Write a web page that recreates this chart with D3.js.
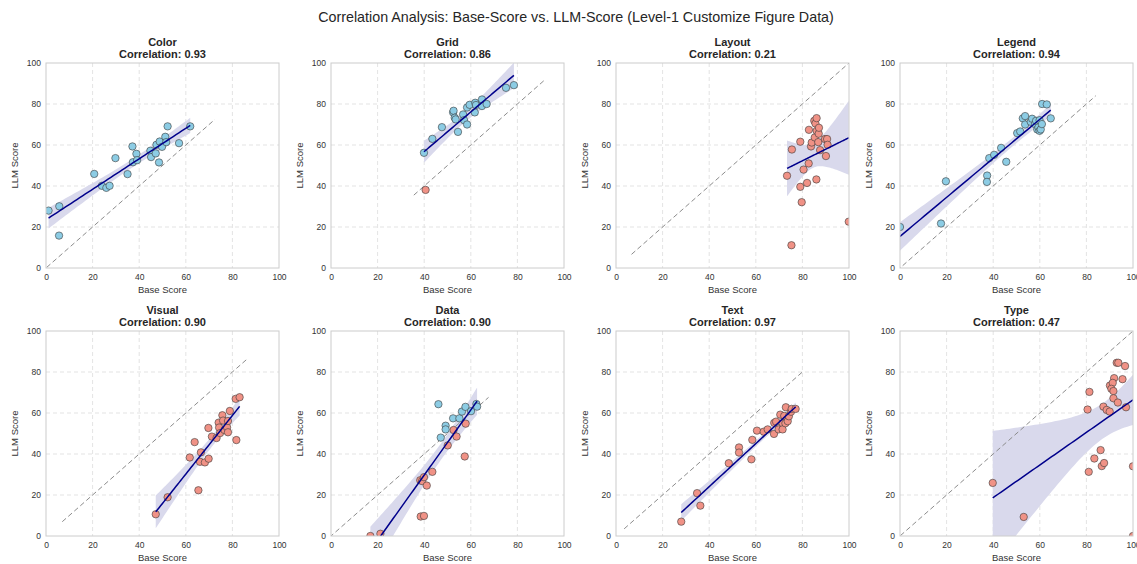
<!DOCTYPE html>
<html>
<head>
<meta charset="utf-8">
<script src="https://cdn.jsdelivr.net/npm/d3@7"></script>
<style>
  html, body { margin: 0; padding: 0; background: #fff; }
  svg { display: block; font-family: "Liberation Sans", Arial, sans-serif; }
</style>
</head>
<body>
<svg id="chart" width="1137" height="564"></svg>
<script>
// ---------------- DATA ----------------
const suptitle = "Correlation Analysis: Base-Score vs. LLM-Score (Level-1 Customize Figure Data)";
const panelNames = ["Color", "Grid", "Layout", "Legend", "Visual", "Data", "Text", "Type"];
const corrLabels = ["0.93", "0.86", "0.21", "0.94", "0.90", "0.90", "0.97", "0.47"];
const tickValues = [0, 20, 40, 60, 80, 100];

const colorBase = [1.1, 5.7, 5.6, 20.7, 24.0, 25.9, 27.3, 29.8, 35.0, 37.1, 37.3, 38.8, 39.1, 44.8, 45.1, 47.1, 47.4, 48.5, 48.8, 49.8, 51.2, 51.6, 52.2, 57.1, 61.9];
const colorLLM  = [28.0, 30.1, 15.8, 45.9, 40.1, 39.1, 40.1, 53.6, 45.8, 59.3, 51.6, 55.7, 52.6, 57.2, 54.1, 55.9, 60.1, 51.5, 61.7, 59.1, 64.0, 61.4, 69.1, 60.9, 69.1];

const gridBase = [39.9, 40.6, 43.5, 47.6, 52.4, 52.6, 53.1, 53.5, 54.5, 56.7, 57.1, 58.4, 58.4, 59.5, 61.7, 61.9, 62.2, 64.8, 64.8, 66.8, 75.1, 78.5];
const gridLLM  = [56.2, 38.1, 63.0, 68.7, 75.9, 76.7, 73.3, 72.5, 66.4, 74.9, 72.1, 70.0, 78.3, 79.6, 75.9, 80.6, 79.5, 82.2, 79.0, 80.0, 87.9, 89.2];

const layoutBase = [73.4, 75.5, 75.3, 79.1, 79.1, 79.7, 80.5, 82.0, 82.7, 82.8, 83.7, 84.0, 85.1, 85.3, 85.6, 86.0, 86.1, 86.1, 86.8, 87.0, 87.1, 87.6, 89.7, 90.1, 90.6, 90.8, 99.9];
const layoutLLM  = [45.0, 57.8, 11.1, 61.6, 39.6, 32.1, 48.0, 41.5, 51.0, 67.4, 59.3, 61.2, 71.8, 63.7, 70.5, 43.2, 73.1, 66.9, 61.4, 65.5, 68.4, 57.5, 62.9, 54.6, 62.9, 60.1, 22.6];

const legendBase = [0.0, 17.6, 19.7, 37.4, 37.3, 38.3, 40.4, 43.4, 45.6, 50.3, 51.6, 52.7, 53.7, 53.7, 56.1, 56.7, 57.9, 58.4, 58.9, 59.9, 59.4, 59.9, 60.4, 60.9, 61.0, 63.0, 64.7];
const legendLLM  = [20.0, 21.7, 42.3, 45.1, 42.0, 53.6, 55.2, 58.6, 51.8, 65.8, 66.6, 73.0, 74.1, 70.0, 71.3, 72.8, 70.2, 71.8, 67.6, 72.1, 68.6, 66.9, 67.6, 70.2, 80.0, 79.8, 73.0];

const visualBase = [47.1, 52.2, 61.7, 63.8, 65.4, 66.1, 66.5, 68.2, 69.8, 69.7, 71.2, 73.2, 74.1, 74.3, 74.7, 75.7, 76.0, 76.6, 77.7, 78.1, 78.1, 78.9, 81.4, 81.7, 83.1];
const visualLLM  = [10.6, 18.9, 38.3, 45.8, 22.3, 36.2, 40.8, 35.9, 37.7, 52.7, 48.5, 47.8, 55.3, 52.9, 50.2, 58.9, 56.3, 51.7, 53.0, 50.6, 56.1, 61.0, 66.9, 46.8, 67.7];

const dataBase = [16.9, 21.2, 38.5, 39.9, 38.3, 39.1, 39.9, 41.1, 43.5, 50.1, 52.6, 53.9, 57.8, 57.4, 46.1, 47.1, 49.2, 49.2, 52.4, 55.1, 56.2, 57.7, 60.1, 62.4, 62.7];
const dataLLM  = [0.0, 1.1, 9.5, 9.8, 27.2, 26.8, 28.7, 24.6, 31.3, 44.2, 51.7, 48.5, 54.8, 38.8, 64.3, 48.0, 53.8, 52.0, 57.4, 57.4, 60.7, 63.0, 60.9, 64.4, 63.1];

const textBase = [28.0, 34.8, 36.2, 48.4, 52.8, 52.8, 58.1, 58.5, 60.5, 63.4, 65.1, 67.8, 67.9, 68.7, 69.8, 70.5, 71.5, 71.5, 72.2, 72.7, 72.9, 73.7, 74.2, 75.1, 75.4, 77.1];
const textLLM  = [7.0, 20.9, 14.8, 35.5, 43.2, 40.7, 37.4, 46.9, 51.4, 50.9, 52.0, 49.8, 55.2, 55.8, 52.0, 59.2, 55.0, 52.0, 58.6, 55.0, 62.8, 56.0, 58.4, 60.6, 62.0, 62.0];

const typeBase = [39.8, 53.1, 81.0, 83.4, 81.3, 80.5, 86.1, 86.6, 87.6, 87.3, 88.7, 90.0, 93.0, 93.7, 96.6, 91.9, 95.5, 90.1, 91.3, 90.7, 91.6, 91.6, 93.5, 97.0, 100.0, 100.0];
const typeLLM  = [25.9, 9.3, 31.3, 37.8, 70.3, 61.7, 41.9, 34.1, 35.6, 63.1, 61.5, 60.7, 84.5, 84.5, 82.9, 77.0, 76.5, 73.4, 74.7, 71.8, 70.7, 67.2, 65.1, 62.8, 34.0, 0.0];

const baseSeries = [colorBase, gridBase, layoutBase, legendBase, visualBase, dataBase, textBase, typeBase];
const llmSeries  = [colorLLM, gridLLM, layoutLLM, legendLLM, visualLLM, dataLLM, textLLM, typeLLM];

// ---------------- LAYOUT ----------------
const colX = [46, 331, 616, 900];
const rowY = [63, 331];
const pw = 233, ph = 205;

const svg = d3.select("#chart");

svg.append("text")
  .attr("x", 576).attr("y", 22)
  .attr("text-anchor", "middle")
  .attr("font-size", 14.3)
  .attr("fill", "#262626")
  .text(suptitle);

panelNames.forEach((name, i) => {
  const base = baseSeries[i], llm = llmSeries[i];
  const x0 = colX[i % 4], y0 = rowY[Math.floor(i / 4)];
  const g = svg.append("g").attr("transform", `translate(${x0},${y0})`);
  const x = d3.scaleLinear().domain([0, 100]).range([0, pw]);
  const y = d3.scaleLinear().domain([0, 100]).range([ph, 0]);

  const clipId = "clip" + i;
  g.append("clipPath").attr("id", clipId)
    .append("rect").attr("x", 0).attr("y", 0).attr("width", pw).attr("height", ph);

  // grid
  g.append("g").selectAll("line.vx").data(tickValues.slice(1, -1)).join("line")
    .attr("x1", d => x(d)).attr("x2", d => x(d)).attr("y1", 0).attr("y2", ph)
    .attr("stroke", "#dcdcdc").attr("stroke-width", 0.8).attr("stroke-dasharray", "4,3");
  g.append("g").selectAll("line.hy").data(tickValues.slice(1, -1)).join("line")
    .attr("y1", d => y(d)).attr("y2", d => y(d)).attr("x1", 0).attr("x2", pw)
    .attr("stroke", "#dcdcdc").attr("stroke-width", 0.8).attr("stroke-dasharray", "4,3");

  // axes (labels only)
  const xa = g.append("g").attr("transform", `translate(0,${ph})`)
    .call(d3.axisBottom(x).tickValues(tickValues).tickSize(0).tickPadding(6));
  const ya = g.append("g")
    .call(d3.axisLeft(y).tickValues(tickValues).tickSize(0).tickPadding(5));
  [xa, ya].forEach(a => {
    a.select(".domain").remove();
    a.selectAll("text").attr("font-size", 8.5).attr("fill", "#333")
      .attr("font-family", "Liberation Sans, Arial, sans-serif");
  });

  const plot = g.append("g").attr("clip-path", `url(#${clipId})`);

  // regression
  const n = base.length;
  const mx = d3.mean(base), my = d3.mean(llm);
  let sxx = 0, sxy = 0;
  for (let k = 0; k < n; k++) { sxx += (base[k] - mx) ** 2; sxy += (base[k] - mx) * (llm[k] - my); }
  const b = sxy / sxx, a = my - b * mx;
  let sse = 0;
  for (let k = 0; k < n; k++) sse += (llm[k] - (a + b * base[k])) ** 2;
  const s = Math.sqrt(sse / (n - 2));
  const tval = 1.96 + 2.5 / (n - 2);
  const [xmin, xmax] = d3.extent(base);
  const xs = d3.range(0, 51).map(k => xmin + (xmax - xmin) * k / 50);
  const band = xs.map(xv => {
    const yh = a + b * xv;
    const se = s * Math.sqrt(1 / n + (xv - mx) ** 2 / sxx);
    return { x: xv, lo: yh - tval * se, hi: yh + tval * se, y: yh };
  });
  plot.append("path").datum(band)
    .attr("d", d3.area().x(d => x(d.x)).y0(d => y(d.lo)).y1(d => y(d.hi)))
    .attr("fill", "rgb(217,217,236)").attr("stroke", "none");

  // diagonal reference line
  const all = base.concat(llm);
  const lo = d3.min(all), hi = d3.max(all), pad = (hi - lo) * 0.05;
  plot.append("line")
    .attr("x1", x(lo - pad)).attr("y1", y(lo - pad))
    .attr("x2", x(hi + pad)).attr("y2", y(hi + pad))
    .attr("stroke", "#8c8c8c").attr("stroke-width", 1).attr("stroke-dasharray", "5,3");

  // points
  plot.append("g").selectAll("circle").data(d3.range(n)).join("circle")
    .attr("cx", k => x(base[k])).attr("cy", k => y(llm[k]))
    .attr("r", 3.7)
    .attr("fill", k => llm[k] >= base[k] ? "rgb(140,204,228)" : "rgb(240,146,134)")
    .attr("stroke", "#3a3a3a").attr("stroke-width", 0.7).attr("stroke-opacity", 0.85);

  // regression line
  plot.append("path").datum(band)
    .attr("d", d3.line().x(d => x(d.x)).y(d => y(d.y)))
    .attr("fill", "none").attr("stroke", "#00008B").attr("stroke-width", 1.5);

  // frame
  g.append("rect").attr("x", 0).attr("y", 0).attr("width", pw).attr("height", ph)
    .attr("fill", "none").attr("stroke", "#cccccc").attr("stroke-width", 1);

  // titles
  g.append("text").attr("x", pw / 2).attr("y", -17)
    .attr("text-anchor", "middle").attr("font-size", 11).attr("font-weight", "bold").attr("fill", "#262626")
    .text(name);
  g.append("text").attr("x", pw / 2).attr("y", -5)
    .attr("text-anchor", "middle").attr("font-size", 11).attr("font-weight", "bold").attr("fill", "#262626")
    .text("Correlation: " + corrLabels[i]);

  // axis labels
  g.append("text").attr("x", pw / 2).attr("y", ph + 25)
    .attr("text-anchor", "middle").attr("font-size", 9.5).attr("fill", "#333")
    .text("Base Score");
  g.append("text").attr("transform", `translate(${-28},${ph / 2}) rotate(-90)`)
    .attr("text-anchor", "middle").attr("font-size", 9.5).attr("fill", "#333")
    .text("LLM Score");
});
</script>
</body>
</html>
